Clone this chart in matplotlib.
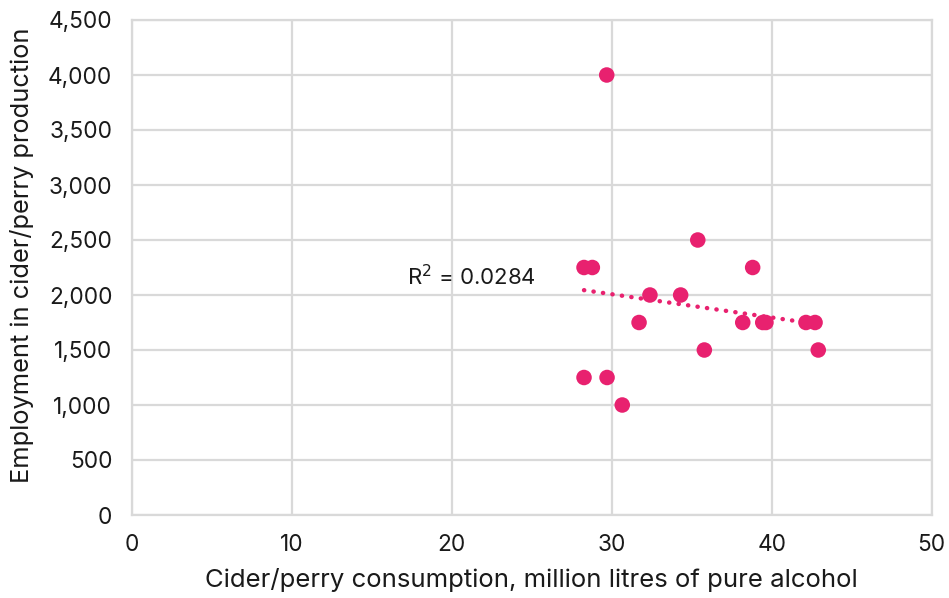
import matplotlib.pyplot as plt
import numpy as np

plt.rcParams['font.family'] = ['Inter', 'DejaVu Sans']

consumption = [28.27, 28.79, 28.27, 29.69, 29.71, 30.66, 31.71, 32.39, 34.31,
               35.38, 35.79, 38.19, 38.81, 39.44, 39.64, 42.14, 42.71, 42.91]
employment = [2250, 2250, 1250, 4000, 1250, 1000, 1750, 2000, 2000,
              2500, 1500, 1750, 2250, 1750, 1750, 1750, 1750, 1500]
r2_label = 'R$^2$ = 0.0284'

pink = '#e8216f'
x = np.array(consumption)
y = np.array(employment)

fig = plt.figure(figsize=(9.49, 5.98), dpi=100)
ax = fig.add_axes([131.7/949, 1-515/598, (931.7-131.7)/949, (515-20)/598])

# linear trendline
k, b = np.polyfit(x, y, 1)
xt = np.array([x.min(), x.max()])
ax.plot(xt, k*xt + b, color=pink, lw=3.2, linestyle=(0, (0.05, 2.1)),
        dash_capstyle='round', zorder=3)
ax.scatter(x, y, s=125, color=pink, edgecolors='none', zorder=4)
ax.text(17.2, 2165, r2_label, fontsize=16, va='center', ha='left', color='#1a1a1a')

ax.set_xlim(0, 50)
ax.set_ylim(0, 4500)
ax.set_xticks(np.arange(0, 51, 10))
ax.set_yticks(np.arange(0, 4501, 500))
ax.set_yticklabels([f'{v:,}' for v in range(0, 4501, 500)])
ax.grid(color='#d9d9d9', lw=1.6)
ax.set_axisbelow(True)
for s in ax.spines.values():
    s.set_color('#d9d9d9')
    s.set_linewidth(1.6)
ax.tick_params(length=0, labelsize=16.3, colors='#1a1a1a', pad=14)
ax.set_xlabel('Cider/perry consumption, million litres of pure alcohol',
              fontsize=18.5, color='#1a1a1a')
ax.set_ylabel('Employment in cider/perry production', fontsize=18.3,
              color='#1a1a1a')
ax.xaxis.set_label_coords(0.5, -0.131)
ax.xaxis.label.set_va('center')
ax.yaxis.set_label_coords(-0.137, 0.525)
ax.yaxis.label.set_va('center')

fig.savefig('out.png', dpi=100)
